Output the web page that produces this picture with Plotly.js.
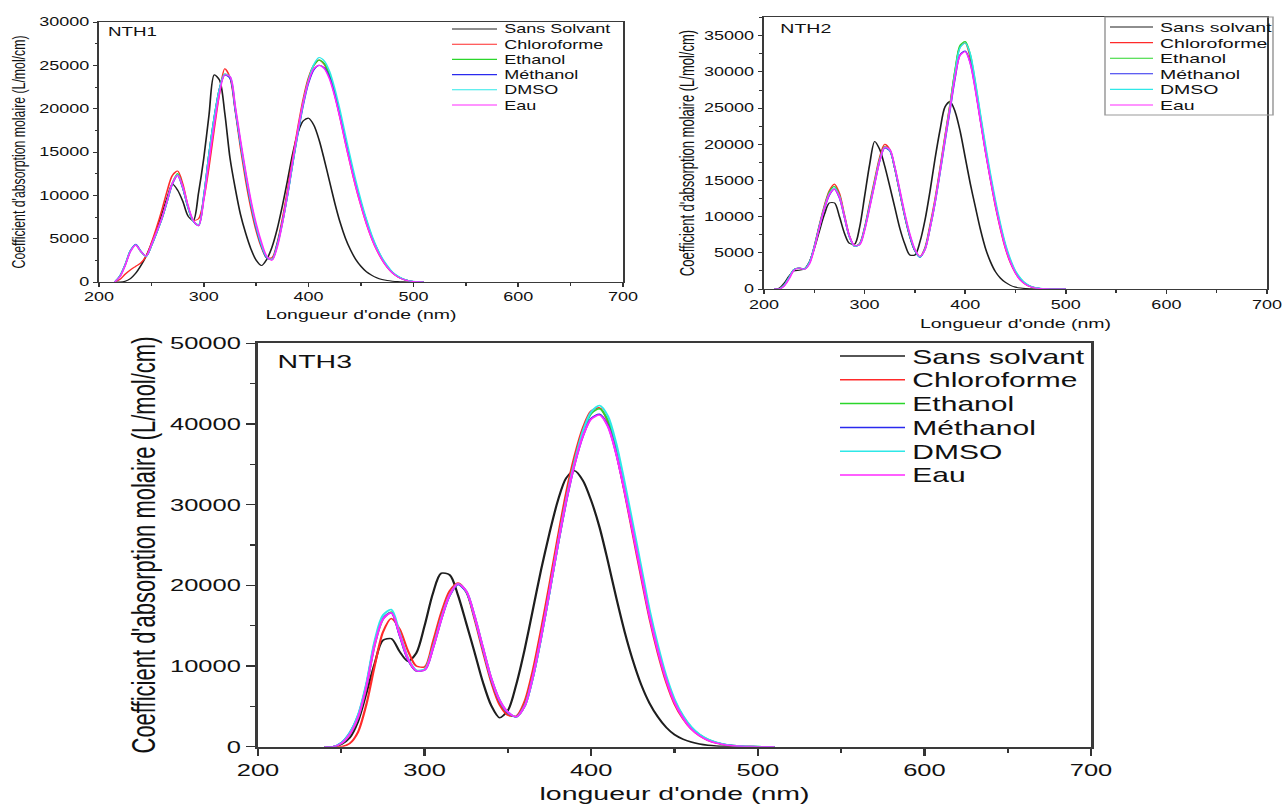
<!DOCTYPE html>
<html>
<head>
<meta charset="utf-8">
<script src="https://cdn.plot.ly/plotly-3.0.1.min.js"></script>
<style>
html,body{margin:0;padding:0;background:#fff;overflow:hidden;}
#wrap{width:1283px;height:807px;overflow:hidden;position:relative;}
#plot{width:855px;height:807px;transform-origin:0 0;}
</style>
</head>
<body>
<div id="wrap"><div id="plot"></div></div>
<script>
// ---------------- DATA ----------------
const seriesNames1 = ["Sans Solvant","Chloroforme","Ethanol","Méthanol","DMSO","Eau"];
const seriesNames2 = ["Sans solvant","Chloroforme","Ethanol","Méthanol","DMSO","Eau"];
const seriesNames3 = ["Sans solvant","Chloroforme","Ethanol","Méthanol","DMSO","Eau"];
const panelLabels = ["NTH1","NTH2","NTH3"];
const xTitles = ["Longueur d'onde (nm)","Longueur d'onde (nm)","longueur d'onde (nm)"];
const yTitle = "Coefficient d'absorption molaire (L/mol/cm)";

// NTH1 wavelengths (nm)
const w1 = [215,220,225,230,235,240,245,250,255,260,265,270,275,280,285,290,295,300,305,310,315,320,325,330,335,340,345,350,355,360,365,370,375,380,385,390,395,400,405,410,415,420,425,430,435,440,445,450,455,460,465,470,475,480,485,490,495,500,505,510];
const nth1_sans = [0,0,100,400,1000,1900,3000,4400,6000,7800,9700,11300,10600,9300,7600,7100,10300,14300,19300,23900,23300,19500,14300,10800,7800,5600,3800,2500,1900,2600,4000,6100,8800,11800,14900,17300,18600,18900,18100,16400,14100,11600,9100,6900,5100,3700,2600,1800,1200,800,500,300,170,90,40,10,0,0,0,0];
const nth1_chl = [0,300,900,1400,1800,2200,3000,4500,6300,8300,10500,12300,12800,11300,8700,7100,7300,9600,13300,17700,21800,24600,23600,19800,15500,11700,8500,5900,4000,2800,2800,4500,7300,10700,14400,18000,21200,23600,25000,25600,25100,23700,21600,19000,16200,13500,11000,8800,6800,5100,3700,2600,1700,1050,600,320,140,50,10,0];
const nth1_eth = [0,700,2000,3600,4300,3500,2950,4200,5700,7300,9300,11400,12500,10900,8600,7000,6600,9900,14800,19000,22300,24000,23600,20000,16000,12300,9000,6300,4200,2800,2600,4300,6900,10200,13900,17500,20800,23400,25000,25600,25200,23900,21900,19300,16500,13800,11300,9100,7100,5300,3900,2700,1800,1100,650,350,160,60,15,0];
const nth1_met = [0,700,2000,3600,4350,3550,2950,4200,5700,7300,9300,11300,12300,10800,8600,7000,6500,9900,14800,19000,22300,23900,23500,19900,16000,12300,9000,6300,4200,2800,2600,4300,6900,10100,13800,17300,20500,23000,24500,25000,24700,23600,21600,19100,16400,13800,11300,9100,7100,5300,3900,2700,1800,1100,650,350,160,60,15,0];
const nth1_dmso = [0,700,2000,3600,4300,3500,2950,4200,5700,7300,9300,11400,12400,10900,8600,7000,6600,9900,14800,19000,22300,24000,23700,20100,16100,12400,9100,6400,4300,2900,2600,4200,6800,10100,13800,17400,20700,23300,25100,25900,25500,24300,22300,19800,17000,14300,11700,9400,7300,5500,4000,2800,1900,1150,700,380,170,70,20,0];
const nth1_eau = [0,600,1900,3500,4250,3500,3000,4300,5800,7400,9400,11400,12300,11000,8800,7100,6500,9500,14000,18200,21800,23900,23700,20300,16400,12700,9400,6700,4600,3000,2500,4000,6800,10300,14100,17700,20800,23200,24600,25000,24600,23400,21400,18900,16100,13500,11000,8800,6800,5100,3700,2600,1700,1050,600,320,140,50,10,0];

// NTH2 wavelengths (nm)
const w2 = [210,215,220,225,230,235,240,245,250,255,260,265,270,275,280,285,290,295,300,305,310,315,320,325,330,335,340,345,350,355,360,365,370,375,380,385,390,395,400,405,410,415,420,425,430,435,440,445,450,455,460,465,470,475,480,485,490,495,500];
const nth2_sans = [0,100,800,1800,2500,2600,2750,3700,5600,8000,10300,11900,11900,10000,7700,6300,6200,8500,12800,17200,20400,19300,17000,14200,11300,8400,6200,4700,4700,6500,9500,13500,18000,22000,25200,25900,24500,21800,18200,14600,11400,8300,5700,3800,2400,1500,900,500,260,130,60,25,0,0,0,0,0,0,0];
const nth2_chl = [0,0,500,1600,2700,2900,2750,3600,5900,8800,11500,13600,14500,13200,10200,7300,5900,6300,8500,11800,15100,18200,20000,19300,16700,13300,10000,7200,5300,4500,5700,8800,12400,16700,21200,25600,30200,33500,34000,32000,28000,23500,19200,15200,11500,8300,5600,3600,2200,1200,650,320,150,60,20,0,0,0,0];
const nth2_eth = [0,0,500,1600,2700,2900,2750,3600,5800,8700,11300,13400,14200,12900,10000,7200,5900,6200,8300,11500,14800,17900,19700,19200,16700,13400,10100,7300,5300,4400,5500,8500,12100,16400,21000,25500,30300,33700,34200,32400,28500,24000,19600,15600,11900,8700,6000,3900,2400,1400,750,380,180,80,30,10,0,0,0];
const nth2_met = [0,0,500,1600,2700,2900,2750,3600,5800,8600,11100,13000,13800,12600,9900,7200,5900,6200,8300,11400,14600,17700,19500,19100,16700,13400,10100,7300,5300,4400,5500,8400,11900,16100,20500,24800,29200,32400,32900,31300,27800,23500,19300,15400,11800,8600,5900,3800,2300,1300,700,350,160,70,25,5,0,0,0];
const nth2_dmso = [0,0,500,1600,2700,2900,2750,3600,5800,8600,11200,13200,14000,12800,10000,7200,5900,6200,8300,11400,14700,17800,19600,19200,16800,13500,10200,7400,5400,4400,5500,8400,12000,16200,20800,25200,30000,33400,34000,32500,28700,24300,20000,16000,12300,9000,6200,4100,2500,1500,800,400,190,90,35,10,0,0,0];
const nth2_eau = [0,0,400,1400,2600,2900,2700,3400,5600,8500,11100,13100,13800,12700,10000,7300,6000,6100,8100,11200,14500,17700,19600,19300,16900,13700,10400,7600,5500,4500,5400,8400,12000,16300,20800,25100,29400,32300,32800,31200,27600,23300,19100,15200,11600,8400,5700,3700,2200,1200,650,320,150,60,20,0,0,0,0];

// NTH3 wavelengths (nm)
const w3 = [240,245,250,255,260,265,270,275,280,285,290,295,300,305,310,315,320,325,330,335,340,345,350,355,360,365,370,375,380,385,390,395,400,405,410,415,420,425,430,435,440,445,450,455,460,465,470,475,480,485,490,495,500,505,510];
const nth3_sans = [0,0,300,1100,3100,6600,10300,13200,13400,11800,10600,11600,15000,19000,21500,21300,18800,15300,11700,8000,5100,3600,4500,7700,12000,17000,22000,26500,30500,33300,34200,33000,30500,27200,23000,18500,14300,10700,7700,5400,3700,2400,1500,950,580,340,190,100,50,20,0,0,0,0,0];
const nth3_chl = [0,0,0,400,1800,5200,10000,14200,15900,14600,11900,10000,9900,13000,16600,19300,20300,19200,15800,11800,8000,5200,3900,3800,5600,9500,14600,20200,26000,31500,36000,39500,41600,42000,40300,36500,31600,26300,21000,15900,11600,8000,5300,3500,2200,1350,800,450,240,120,50,15,0,0,0];
const nth3_eth = [0,0,400,1500,3600,7400,12600,15800,16700,13900,10900,9400,9600,12300,15900,18800,20200,19200,16100,12200,8400,5700,4200,3700,5100,8700,13700,19300,25100,30600,35300,39000,41300,41900,40500,37000,32200,27000,21800,16600,12200,8500,5700,3800,2400,1500,900,520,290,150,70,25,10,0,0];
const nth3_met = [0,0,500,1700,3800,7600,12800,15900,16600,13800,10800,9400,9500,12200,15800,18700,20100,19200,16100,12200,8400,5700,4200,3700,5000,8600,13600,19200,25000,30400,35000,38500,40700,41200,39800,36400,31800,26700,21500,16300,12000,8400,5600,3700,2300,1450,850,500,280,140,65,25,5,0,0];
const nth3_dmso = [0,0,500,1700,3900,7800,13100,16300,17000,14100,11000,9500,9600,12300,15900,18800,20200,19300,16200,12300,8500,5800,4300,3700,5000,8600,13600,19200,25100,30600,35300,39100,41500,42300,41000,37600,32800,27600,22300,17000,12600,8800,5900,3900,2500,1550,950,560,310,160,75,30,10,0,0];
const nth3_eau = [0,0,400,1500,3600,7400,12600,15800,16600,13900,10900,9400,9500,12200,15800,18800,20200,19300,16200,12300,8500,5800,4300,3700,5000,8700,13700,19300,25100,30500,35000,38500,40600,41100,39700,36300,31700,26600,21400,16200,11900,8300,5500,3600,2200,1350,800,450,240,120,50,15,0,0,0];

const solventColors = ["#1e1e1e","#ff2a2a","#2bd62b","#2a2aee","#2ee8e8","#ff2aff"];

// ---------------- LAYOUT HELPERS ----------------
const FW = 1283, FH = 807;       // final picture size
const W = 855;                   // plotly width before horizontal stretch
const SX = FW / W;
document.getElementById('plot').style.transform = 'scaleX(' + SX + ')';
const FONT = "Liberation Sans, Arial, Helvetica, sans-serif";
const fx = px => px / FW;              // final x pixel -> paper
const fy = py => 1 - py / FH;          // final y pixel -> paper

const panels = [
  {names: seriesNames1, x: w1, ys: [nth1_sans,nth1_chl,nth1_eth,nth1_met,nth1_dmso,nth1_eau], lw: 1.1,
   leg: {x0: 452, x1: 497, tx: 503, y0: 29, dy: 15.2, fs: 12, box: false}},
  {names: seriesNames2, x: w2, ys: [nth2_sans,nth2_chl,nth2_eth,nth2_met,nth2_dmso,nth2_eau], lw: 1.1,
   leg: {x0: 1110, x1: 1153, tx: 1158, y0: 27, dy: 15.6, fs: 13, box: [1105, 1273, 17, 115]}},
  {names: seriesNames3, x: w3, ys: [nth3_sans,nth3_chl,nth3_eth,nth3_met,nth3_dmso,nth3_eau], lw: 1.5,
   leg: {x0: 840, x1: 905, tx: 911, y0: 356, dy: 23.8, fs: 20, box: false}}
];

const traces = [];
const shapes = [];
const annotations = [];
panels.forEach((p, pi) => {
  const ax = pi === 0 ? '' : String(pi + 1);
  const L = p.leg;
  if (L.box) {
    shapes.push({type: 'rect', xref: 'paper', yref: 'paper', x0: fx(L.box[0]), x1: fx(L.box[1]), y0: fy(L.box[3]), y1: fy(L.box[2]),
                 line: {color: '#9a9a9a', width: 1}, fillcolor: 'rgba(255,255,255,0)', layer: 'above'});
  }
  p.ys.forEach((y, si) => {
    traces.push({
      type: 'scatter', mode: 'lines', x: p.x, y: y, name: p.names[si],
      xaxis: 'x' + ax, yaxis: 'y' + ax, showlegend: false,
      line: {color: solventColors[si], width: p.lw, shape: 'spline', smoothing: 0.8},
      hoverinfo: 'skip'
    });
    // legend entry (sample line + label)
    const ry = L.y0 + si * L.dy;
    shapes.push({type: 'line', xref: 'paper', yref: 'paper', x0: fx(L.x0), x1: fx(L.x1), y0: fy(ry), y1: fy(ry),
                 line: {color: solventColors[si], width: p.lw}, layer: 'above'});
    annotations.push({text: p.names[si], xref: 'paper', yref: 'paper', x: fx(L.tx), y: fy(ry + 0.5),
                      xanchor: 'left', yanchor: 'middle', showarrow: false, borderpad: 0,
                      font: {family: FONT, size: L.fs, color: '#111'}});
  });
});

function xAxis(domain, anchor, o) {
  return {
    domain: domain, anchor: anchor, range: [200, 700], tick0: 200, dtick: 100,
    ticks: 'outside', ticklen: o.tl, tickwidth: o.tw, tickcolor: '#333',
    showline: true, linecolor: '#3a3a3a', linewidth: o.lw, mirror: true,
    showgrid: false, zeroline: false, automargin: false, tickformat: 'd',
    ticklabeloverflow: 'allow',
    tickfont: {family: FONT, size: o.tf, color: '#111'},
    minor: {dtick: 50, ticks: 'outside', ticklen: o.mtl, tickwidth: o.tw, tickcolor: '#333', showgrid: false},
    title: {text: o.title, font: {family: FONT, size: o.ttf, color: '#111'}, standoff: o.so}
  };
}
function yAxis(domain, anchor, o) {
  return {
    domain: domain, anchor: anchor, range: [0, o.max], tick0: 0, dtick: o.dt,
    ticks: 'outside', ticklen: o.tl, tickwidth: o.tw, tickcolor: '#333',
    showline: true, linecolor: '#3a3a3a', linewidth: o.lw, mirror: true,
    showgrid: false, zeroline: false, automargin: false,
    tickformat: 'd', exponentformat: 'none', ticklabeloverflow: 'allow',
    tickfont: {family: FONT, size: o.tf, color: '#111'},
    minor: {dtick: o.dt / 2, ticks: 'outside', ticklen: o.mtl, tickwidth: o.tw, tickcolor: '#333', showgrid: false},
    title: {text: yTitle, font: {family: FONT, size: o.ttf, color: '#111'}, standoff: o.so}
  };
}

annotations.push(
  {text: panelLabels[0], xref: 'paper', yref: 'paper', x: fx(105), y: fy(32), xanchor: 'left', yanchor: 'middle', showarrow: false, font: {family: FONT, size: 12.5, color: '#111'}},
  {text: panelLabels[1], xref: 'paper', yref: 'paper', x: fx(778), y: fy(28), xanchor: 'left', yanchor: 'middle', showarrow: false, font: {family: FONT, size: 13, color: '#111'}},
  {text: panelLabels[2], xref: 'paper', yref: 'paper', x: fx(274), y: fy(362), xanchor: 'left', yanchor: 'middle', showarrow: false, font: {family: FONT, size: 19, color: '#111'}}
);

const layout = {
  width: W, height: FH, autosize: false,
  margin: {l: 0, r: 0, t: 0, b: 0, pad: 0},
  paper_bgcolor: '#fff', plot_bgcolor: '#fff',
  showlegend: false, hovermode: false,
  font: {family: FONT, color: '#111'},
  xaxis:  xAxis([fx(99), fx(623)], 'y',  {tl: 4, mtl: 2.5, tw: 1, lw: 1, tf: 12, ttf: 13, so: 6, title: xTitles[0]}),
  yaxis:  yAxis([fy(282), fy(22)], 'x',  {max: 30000, dt: 5000, tl: 3, mtl: 1.8, tw: 1, lw: 1, tf: 12, ttf: 12.3, so: 6}),
  xaxis2: xAxis([fx(764), fx(1267)], 'y2', {tl: 4, mtl: 2.5, tw: 1, lw: 1.2, tf: 12, ttf: 13, so: 8, title: xTitles[1]}),
  yaxis2: yAxis([fy(289), fy(17)], 'x2', {max: 37600, dt: 5000, tl: 3, mtl: 1.8, tw: 1, lw: 1.2, tf: 12, ttf: 13, so: 3}),
  xaxis3: xAxis([fx(258), fx(1091)], 'y3', {tl: 7, mtl: 4, tw: 1.5, lw: 2, tf: 17, ttf: 19, so: 8, title: xTitles[2]}),
  yaxis3: yAxis([fy(746.7), fy(343.3)], 'x3', {max: 50000, dt: 10000, tl: 6, mtl: 3.5, tw: 1.5, lw: 2, tf: 17, ttf: 22, so: 3}),
  shapes: shapes,
  annotations: annotations
};

Plotly.newPlot('plot', traces, layout, {staticPlot: true, displayModeBar: false});
</script>
</body>
</html>
